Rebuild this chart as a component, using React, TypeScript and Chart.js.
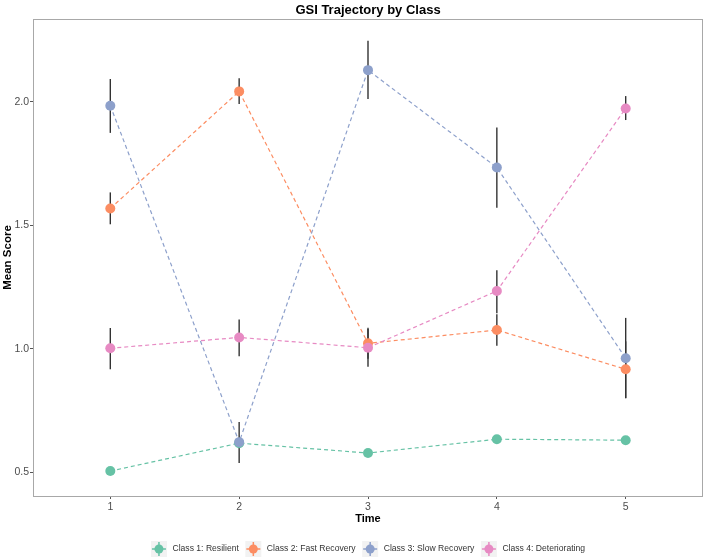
import React, { useEffect, useRef } from "react";
import { Chart, registerables } from "chart.js";

Chart.register(...registerables);

// ---------- data ----------
const times = [1, 2, 3, 4, 5];
const classNames = [
  "Class 1: Resilient",
  "Class 2: Fast Recovery",
  "Class 3: Slow Recovery",
  "Class 4: Deteriorating",
];
const classColors = ["#66C2A5", "#FC8D62", "#8DA0CB", "#E78AC3"];

const class1Mean = [0.505, 0.618, 0.578, 0.634, 0.63];
const class1Low = [0.495, 0.605, 0.568, 0.624, 0.62];
const class1High = [0.515, 0.631, 0.588, 0.644, 0.64];

const class2Mean = [1.568, 2.042, 1.022, 1.076, 0.917];
const class2Low = [1.504, 1.991, 0.96, 1.012, 0.8];
const class2High = [1.633, 2.095, 1.085, 1.14, 1.03];

const class3Mean = [1.984, 0.622, 2.128, 1.734, 0.962];
const class3Low = [1.874, 0.538, 2.011, 1.571, 0.8];
const class3High = [2.092, 0.704, 2.247, 1.896, 1.125];

const class4Mean = [1.002, 1.046, 1.004, 1.234, 1.973];
const class4Low = [0.917, 0.97, 0.927, 1.144, 1.926];
const class4High = [1.084, 1.119, 1.08, 1.318, 2.023];

const yTicks = [0.5, 1.0, 1.5, 2.0];

const titleText = "GSI Trajectory by Class";
const xTitle = "Time";
const yTitle = "Mean Score";

const means = [class1Mean, class2Mean, class3Mean, class4Mean];
const lows = [class1Low, class2Low, class3Low, class4Low];
const highs = [class1High, class2High, class3High, class4High];

const FONT = "'Liberation Sans', Arial, sans-serif";

const decorPlugin = {
  id: "decor",
  beforeDatasetsDraw(chart: any) {
    const { ctx, scales } = chart;
    const xs = scales.x;
    const ys = scales.y;
    ctx.save();
    ctx.strokeStyle = "#333333";
    ctx.lineWidth = 1.4;
    for (let c = 0; c < means.length; c++) {
      for (let i = 0; i < times.length; i++) {
        const x = xs.getPixelForValue(times[i]);
        ctx.beginPath();
        ctx.moveTo(x, ys.getPixelForValue(lows[c][i]));
        ctx.lineTo(x, ys.getPixelForValue(highs[c][i]));
        ctx.stroke();
      }
    }
    ctx.restore();
  },
  afterDraw(chart: any) {
    const { ctx, chartArea } = chart;
    const { left, right, top, bottom } = chartArea;
    ctx.save();
    // panel border
    ctx.strokeStyle = "#A8A8A8";
    ctx.lineWidth = 1;
    ctx.strokeRect(Math.round(left) + 0.5, Math.round(top) + 0.5, Math.round(right - left) - 1, Math.round(bottom - top));

    const cx = (left + right) / 2;
    // title
    ctx.fillStyle = "#000";
    ctx.textAlign = "center";
    ctx.textBaseline = "middle";
    ctx.font = `bold 13px ${FONT}`;
    ctx.fillText(titleText, cx, 10);

    // x title
    ctx.font = `bold 11px ${FONT}`;
    ctx.fillText(xTitle, cx, 519);

    // y title
    ctx.save();
    ctx.font = `bold 11.5px ${FONT}`;
    ctx.translate(8, (top + bottom) / 2);
    ctx.rotate(-Math.PI / 2);
    ctx.fillText(yTitle, 0, 0);
    ctx.restore();

    // legend
    const keySize = 16;
    const keyGap = 5.5;
    const itemGap = 6.5;
    ctx.font = `8.6px ${FONT}`;
    const widths = classNames.map((n) => ctx.measureText(n).width);
    const total =
      widths.reduce((a, w) => a + keySize + keyGap + w, 0) + itemGap * (classNames.length - 1);
    let x = cx - total / 2;
    const ly = 549;
    for (let c = 0; c < classNames.length; c++) {
      ctx.fillStyle = "#F2F2F2";
      ctx.fillRect(x, ly - keySize / 2, keySize, keySize);
      const kx = x + keySize / 2;
      ctx.strokeStyle = classColors[c];
      ctx.lineWidth = 1.5;
      ctx.beginPath();
      ctx.moveTo(x + 1, ly);
      ctx.lineTo(x + keySize - 1, ly);
      ctx.moveTo(kx, ly - keySize / 2 + 1);
      ctx.lineTo(kx, ly + keySize / 2 - 1);
      ctx.stroke();
      ctx.fillStyle = classColors[c];
      ctx.beginPath();
      ctx.arc(kx, ly, 4.5, 0, Math.PI * 2);
      ctx.fill();
      ctx.fillStyle = "#333333";
      ctx.textAlign = "left";
      ctx.textBaseline = "middle";
      ctx.fillText(classNames[c], x + keySize + keyGap, ly);
      x += keySize + keyGap + widths[c] + itemGap;
    }
    ctx.restore();
  },
};

export default function App() {
  const ref = useRef<HTMLCanvasElement | null>(null);
  useEffect(() => {
    document.body.style.margin = "0";
    const canvas = ref.current!;
    const order = [3, 2, 1, 0];
    const chart = new Chart(canvas, {
      type: "line",
      data: {
        datasets: classNames.map((name, c) => ({
          label: name,
          data: times.map((t, i) => ({ x: t, y: means[c][i] })),
          borderColor: classColors[c],
          backgroundColor: classColors[c],
          borderWidth: 1.2,
          borderDash: [4, 3],
          pointRadius: 5,
          pointBorderWidth: 0,
          pointBackgroundColor: classColors[c],
          tension: 0,
          order: order[c],
        })),
      },
      options: {
        responsive: false,
        animation: false,
        layout: { padding: { top: 19, right: 0, left: 0, bottom: 0 } },
        plugins: {
          legend: { display: false },
          title: { display: false },
          tooltip: { enabled: false },
        },
        scales: {
          x: {
            type: "linear",
            min: 0.4,
            max: 5.6,
            afterBuildTicks: (s: any) => {
              s.ticks = times.map((v) => ({ value: v }));
            },
            afterFit: (s: any) => {
              s.height = 63;
            },
            ticks: {
              color: "#4D4D4D",
              font: { family: FONT, size: 10.5 },
              padding: 2,
              maxRotation: 0,
              autoSkip: false,
              callback: (v: any) => String(v),
            },
            grid: {
              display: true,
              drawOnChartArea: false,
              drawTicks: true,
              tickLength: 3,
              color: "#555555",
            },
            border: { display: false },
          },
          y: {
            type: "linear",
            min: 0.404,
            max: 2.335,
            afterBuildTicks: (s: any) => {
              s.ticks = yTicks.map((v) => ({ value: v }));
            },
            afterFit: (s: any) => {
              s.width = 33;
            },
            ticks: {
              color: "#4D4D4D",
              font: { family: FONT, size: 10.5 },
              padding: 1,
              autoSkip: false,
              callback: (v: any) => Number(v).toFixed(1),
            },
            grid: {
              display: true,
              drawOnChartArea: false,
              drawTicks: true,
              tickLength: 3,
              color: "#555555",
            },
            border: { display: false },
          },
        },
      } as any,
      plugins: [decorPlugin],
    });
    return () => chart.destroy();
  }, []);
  return (
    <div style={{ width: 708, height: 559, position: "relative", background: "#fff" }}>
      <canvas ref={ref} width={708} height={559} style={{ display: "block" }} />
    </div>
  );
}
